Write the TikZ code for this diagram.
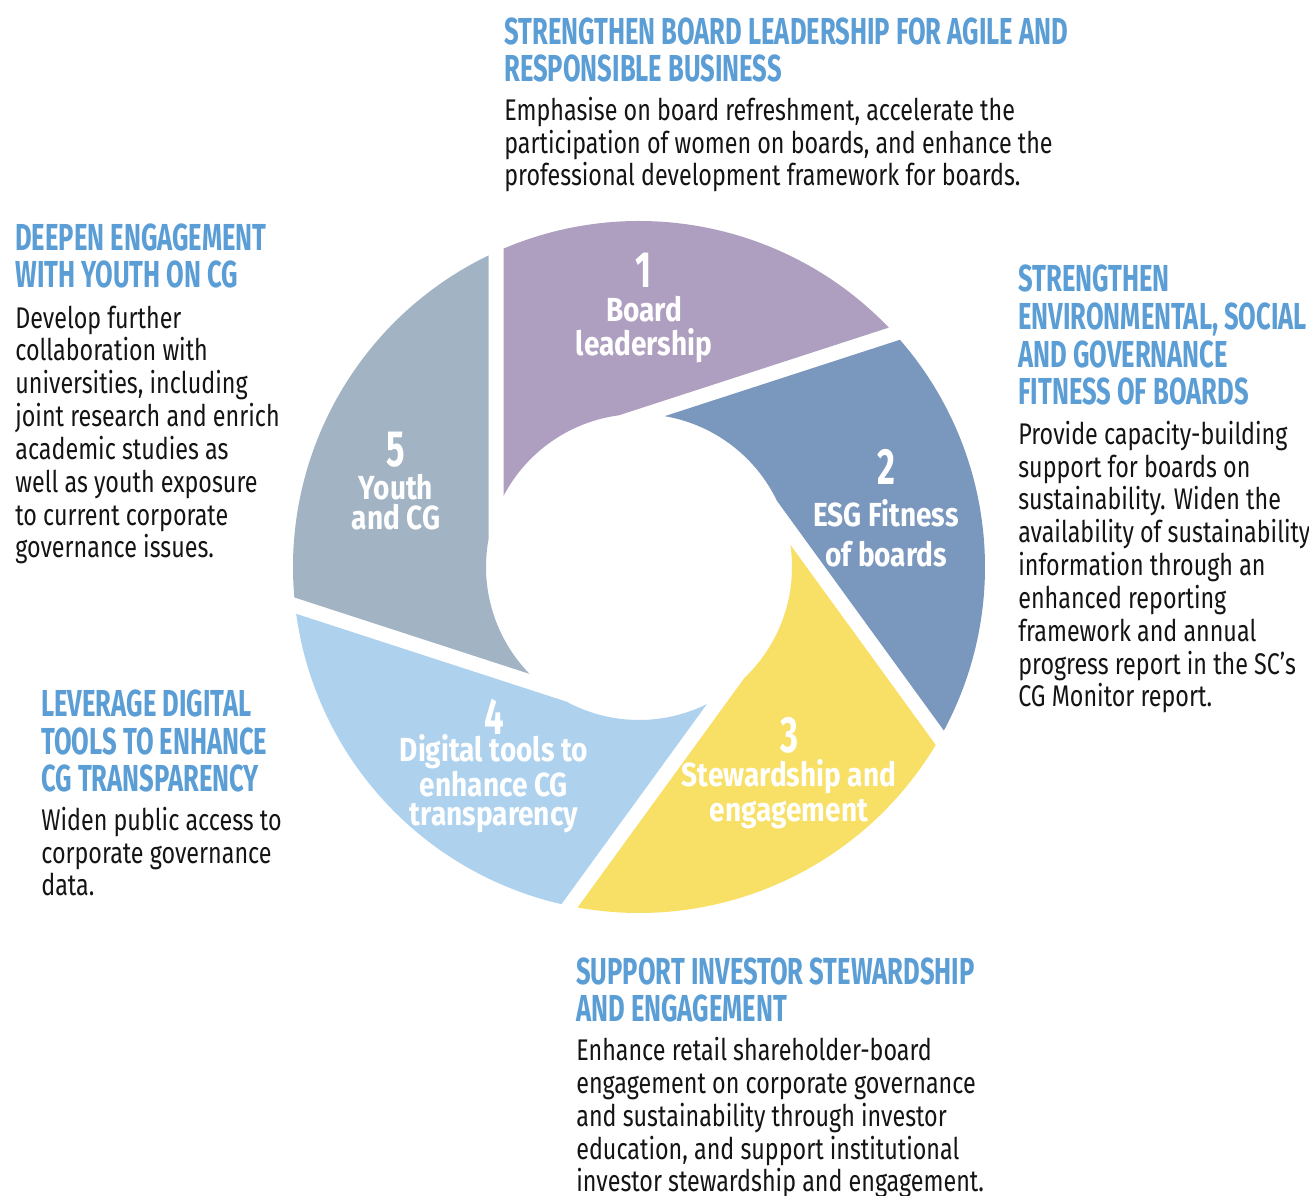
\documentclass[tikz,border=0pt]{standalone}
\usepackage{fontspec}
\setmainfont{Fira Sans}[FakeStretch=0.78]
\newfontfamily\cgcondensed{Fira Sans}[FakeStretch=0.68]
\newfontfamily\cglabel{Fira Sans}[FakeStretch=0.84]

\definecolor{cgpurple}{RGB}{174, 159, 192}
\definecolor{cgblue}{RGB}{122, 151, 190}
\definecolor{cgyellow}{RGB}{247, 224, 101}
\definecolor{cglight}{RGB}{174, 210, 238}
\definecolor{cggrey}{RGB}{162, 179, 196}
\definecolor{cghead}{RGB}{91, 157, 213}
\definecolor{cgtext}{RGB}{20, 20, 20}

\begin{document}
\begin{tikzpicture}[
  x=0.02cm,
  y=0.02cm,
  segnum/.style={font=\cgcondensed\bfseries\fontsize{29}{29}\selectfont, text=white, inner sep=0pt},
  seglabel/.style={font=\cglabel\bfseries\fontsize{19}{#1}\selectfont, text=white, align=center, inner sep=0pt},
  headtext/.style={font=\cgcondensed\bfseries\fontsize{21.4}{21.5}\selectfont, text=cghead, align=left, anchor=base west, inner sep=0pt},
  bodytext/.style={font=\fontsize{17}{18.7}\selectfont, text=cgtext, align=left, anchor=base west, inner sep=0pt}
]
  \useasboundingbox (0, 0) rectangle (1309, 1196);

  % Ring of five blades
  \begin{scope}[shift={(639, 629)}]
    \fill[cgpurple] (152.33:153) -- (113.05:346) arc[start angle=113.05, end angle=43.78, radius=346]
      -- (97.61:153) arc[start angle=97.61, end angle=152.33, radius=153] -- cycle;
    \fill[cgblue] (80.33:153) -- (41.05:346) arc[start angle=41.05, end angle=-28.22, radius=346]
      -- (25.61:153) arc[start angle=25.61, end angle=80.33, radius=153] -- cycle;
    \fill[cgyellow] (8.33:153) -- (-30.95:346) arc[start angle=-30.95, end angle=-100.22, radius=346]
      -- (-46.39:153) arc[start angle=-46.39, end angle=8.33, radius=153] -- cycle;
    \fill[cglight] (-63.67:153) -- (-102.95:346) arc[start angle=-102.95, end angle=-172.22, radius=346]
      -- (-118.39:153) arc[start angle=-118.39, end angle=-63.67, radius=153] -- cycle;
    \fill[cggrey] (-135.67:153) -- (-174.95:346) arc[start angle=-174.95, end angle=-244.22, radius=346]
      -- (-190.39:153) arc[start angle=-190.39, end angle=-135.67, radius=153] -- cycle;
  \end{scope}

  % Blade labels
  \node[segnum] (numone) at (644, 926) {1};
  \node[seglabel=19.3pt] (labone) at (644, 866) {Board\\leadership};

  \node[segnum] (numtwo) at (886, 729) {2};
  \node[seglabel=22.7pt] (labtwo) at (886, 663) {ESG Fitness\\of boards};

  \node[segnum] (numthree) at (789, 461) {3};
  \node[seglabel=19.8pt] (labthree) at (789, 402) {Stewardship and\\engagement};

  \node[segnum] (numfour) at (494, 479) {4};
  \node[seglabel=16.7pt] (labfour) at (494, 412) {Digital tools to\\enhance CG\\transparency};

  \node[segnum] (numfive) at (396, 746) {5};
  \node[seglabel=17pt] (labfive) at (396, 694) {Youth\\and CG};

  % Board leadership (anchor sits on the last line)
  \node[headtext] (headboard) at (504, 1114) {STRENGTHEN BOARD LEADERSHIP FOR AGILE AND\\RESPONSIBLE BUSINESS};
  \node[bodytext] (bodyboard) at (504, 1010) {Emphasise on board refreshment, accelerate the\\participation of women on boards, and enhance the\\professional development framework for boards.};

  % ESG fitness
  \node[headtext] (headesg) at (1018, 791) {STRENGTHEN\\ENVIRONMENTAL, SOCIAL\\AND GOVERNANCE\\FITNESS OF BOARDS};
  \node[bodytext] (bodyesg) at (1018, 489) {Provide capacity-building\\support for boards on\\sustainability. Widen the\\availability of sustainability\\information through an\\enhanced reporting\\framework and annual\\progress report in the SC’s\\CG Monitor report.};

  % Stewardship
  \node[headtext] (headsteward) at (576, 174) {SUPPORT INVESTOR STEWARDSHIP\\AND ENGAGEMENT};
  \node[bodytext] (bodysteward) at (576, 4) {Enhance retail shareholder-board\\engagement on corporate governance\\and sustainability through investor\\education, and support institutional\\investor stewardship and engagement.};

  % Digital tools
  \node[headtext] (headdigital) at (41, 404) {LEVERAGE DIGITAL\\TOOLS TO ENHANCE\\CG TRANSPARENCY};
  \node[bodytext] (bodydigital) at (41, 300) {Widen public access to\\corporate governance\\data.};

  % Youth
  \node[headtext] (headyouth) at (15, 908) {DEEPEN ENGAGEMENT\\WITH YOUTH ON CG};
  \node[bodytext] (bodyyouth) at (15, 638) {Develop further\\collaboration with\\universities, including\\joint research and enrich\\academic studies as\\well as youth exposure\\to current corporate\\governance issues.};

\end{tikzpicture}
\end{document}
